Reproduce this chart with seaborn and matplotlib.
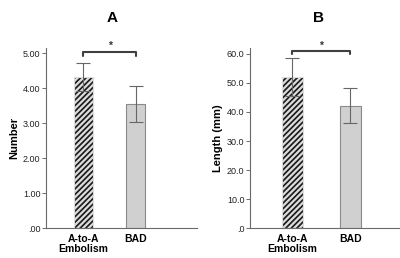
import numpy as np
import pandas as pd
import matplotlib
matplotlib.use('Agg')
import matplotlib.pyplot as plt
import seaborn as sns

# --- data ---
groups = ['A-to-A\nEmbolism', 'BAD']
number_mean = [4.32, 3.55]
number_err = [0.41, 0.52]
length_mean = [52.0, 42.2]
length_err = [6.5, 6.0]

sns.set_style('white')
plt.rcParams['font.family'] = ['Liberation Sans', 'DejaVu Sans']
plt.rcParams['hatch.linewidth'] = 1.6
plt.rcParams['text.color'] = 'black'
plt.rcParams['axes.labelcolor'] = 'black'

fig = plt.figure(figsize=(4.0, 2.58), dpi=100)
ax_a = fig.add_axes([0.115, 0.115, 0.3775, 0.699])
ax_b = fig.add_axes([0.625, 0.115, 0.375, 0.699])

panels = [
    (ax_a, number_mean, number_err, 'Number', (0, 5.15), np.arange(0, 5.01, 1.0), '{:.2f}',
     (-0.71, 2.16), 5.03, 0.11, 5.2),
    (ax_b, length_mean, length_err, 'Length (mm)', (0, 62.0), np.arange(0, 60.1, 10.0), '{:.1f}',
     (-0.72, 1.85), 61.0, 1.2, 62.6),
]

for ax, means, errs, ylab, ylim, yticks, fmt, xlim, br_y, br_d, star_y in panels:
    df = pd.DataFrame({'group': groups, 'value': means})
    sns.barplot(data=df, x='group', y='value', ax=ax, width=0.36, errorbar=None,
                palette=['#2a2a2a', '#d0d0d0'], hue='group', legend=False,
                edgecolor='#8a8a8a', linewidth=0.8)
    # hatched first bar
    p0 = ax.patches[0]
    p0.set_facecolor('#1a1a1a')
    p0.set_hatch('//////')
    p0.set_edgecolor('#dcdcdc')
    ax.errorbar(range(len(means)), means, yerr=errs, fmt='none', ecolor='#666666',
                elinewidth=0.8, capsize=5, capthick=0.8, zorder=3)

    # significance bracket
    ax.plot([0, 0, 1, 1], [br_y - br_d, br_y, br_y, br_y - br_d], color='#404040',
            linewidth=1.5, clip_on=False)
    ax.text(0.5, star_y, '*', ha='center', va='center', fontsize=7.5, fontweight='bold',
            color='#333333', clip_on=False)

    ax.set_xlim(*xlim)
    ax.set_ylim(*ylim)
    ax.set_yticks(yticks)
    labels = [fmt.format(v) for v in yticks]
    labels[0] = labels[0].lstrip('0')
    ax.set_yticklabels(labels, fontsize=6.5, color='#222222')
    ax.set_xticks(range(len(groups)))
    ax.set_xticklabels(groups, fontsize=7.5, fontweight='bold', linespacing=1.0, color='black')
    ax.tick_params(axis='x', length=0, pad=4)
    ax.tick_params(axis='y', length=3, width=0.6, color='#555555', pad=1, left=True, direction='out')
    ax.set_xlabel('')
    ax.set_ylabel(ylab, fontsize=8, fontweight='bold', labelpad=3)
    sns.despine(ax=ax)
    for s in ['left', 'bottom']:
        ax.spines[s].set_color('#6a6a6a')
        ax.spines[s].set_linewidth(0.8)

fig.text(112 / 400, 1 - 18 / 258, 'A', ha='center', va='center', fontsize=11, fontweight='bold')
fig.text(318 / 400, 1 - 18 / 258, 'B', ha='center', va='center', fontsize=11, fontweight='bold')

fig.savefig('out.png', dpi=100)
